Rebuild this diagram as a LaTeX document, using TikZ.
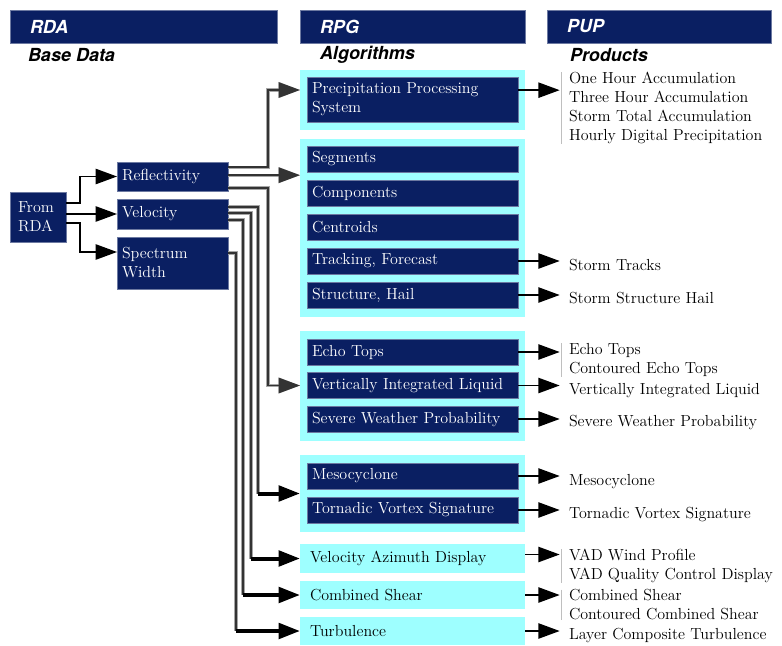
\documentclass[tikz,border=0pt]{standalone}
\usepackage{fontspec}
\setsansfont{TeX Gyre Heros}
\usepackage{tikz}
\usetikzlibrary{arrows.meta}
\definecolor{radarnavy}{HTML}{0A1F62}
\definecolor{radaraqua}{HTML}{9EFFFF}

\begin{document}
\begin{tikzpicture}[x=0.75pt, y=-0.75pt, every node/.style={inner sep=0pt, outer sep=0pt, font=\fontsize{12}{14.25}\selectfont}, head/.style={fill=radarnavy, draw=radarnavy!60!white, line width=0.4pt, text=white, anchor=north west, align=left, minimum height=24.75pt, inner xsep=15pt, font=\sffamily\bfseries\itshape\fontsize{13.5}{13.5}\selectfont}, subhead/.style={anchor=west, font=\sffamily\bfseries\itshape\fontsize{13.5}{13.5}\selectfont}, grp/.style={fill=radaraqua, anchor=north west, minimum width=168.75pt}, algo/.style={fill=radarnavy, draw=radarnavy!60!white, line width=0.4pt, text=white, anchor=north west, align=left, text width=150.75pt, inner xsep=3.75pt, minimum height=19.5pt}, lite/.style={fill=radaraqua, anchor=north west, align=left, text width=153.75pt, inner xsep=7.5pt, minimum height=21pt}, data/.style={fill=radarnavy, draw=radarnavy!60!white, line width=0.4pt, text=white, anchor=north west, align=left, text width=75.75pt, inner xsep=3.75pt}, prod/.style={anchor=west, align=left, font=\fontsize{12}{14.25}\selectfont}, tip/.style={-{Triangle[length=16pt, width=11.5pt]}}, feed/.style={draw=black, line width=1.1pt, tip}, wire/.style={draw=black!80, line width=1.1pt, preaction={draw=black!35, line width=2.3pt}}, heavy/.style={draw=black, line width=3pt, tip}, outarrow/.style={draw=black, line width=1.1pt, tip, shorten >=7pt}, bracket/.style={draw=black!25, line width=0.6pt}]
  \useasboundingbox (0,0) rectangle (782,646);

  % column heads
  \node[head, text width=170.25pt] (rdahead) at (10,10) {RDA};
  \node[head, text width=138.75pt] (rpghead) at (300,10) {RPG};
  \node[head, text width=138pt] (puphead) at (547,10) {PUP};
  \node[subhead] (basedata) at (28,55) {Base Data};
  \node[subhead] (algos) at (320,55) {Algorithms};
  \node[subhead] (prods) at (570,55) {Products};

  % algorithm groups
  \node[grp, minimum height=45pt] (precipgrp) at (300,70) {};
  \node[grp, minimum height=133.5pt] (stormgrp) at (300,139) {};
  \node[grp, minimum height=82.5pt] (liquidgrp) at (300,331) {};
  \node[grp, minimum height=57.75pt] (mesogrp) at (300,455) {};

  \node[algo, minimum height=33.75pt] (pps) at (307,77) {Precipitation Processing\\System};
  \node[algo] (seg) at (307,146) {Segments};
  \node[algo] (comp) at (307,180) {Components};
  \node[algo] (cent) at (307,214) {Centroids};
  \node[algo] (track) at (307,248) {Tracking, Forecast};
  \node[algo] (hail) at (307,282) {Structure, Hail};
  \node[algo] (echo) at (307,339) {Echo Tops};
  \node[algo] (vil) at (307,372.5) {Vertically Integrated Liquid};
  \node[algo] (swp) at (307,406) {Severe Weather Probability};
  \node[algo] (meso) at (307,463) {Mesocyclone};
  \node[algo] (tvs) at (307,497) {Tornadic Vortex Signature};
  \node[lite, minimum height=21.75pt] (vad) at (300,544) {Velocity Azimuth Display};
  \node[lite] (shear) at (300,581) {Combined Shear};
  \node[lite] (turb) at (300,617) {Turbulence};

  % base data
  \node[data, text width=30pt, inner xsep=6pt, minimum height=37.5pt] (rda) at (10,192) {From\\RDA};
  \node[data, minimum height=21.75pt] (refl) at (117,162) {Reflectivity};
  \node[data, minimum height=22.5pt] (vel) at (117,199) {Velocity};
  \node[data, minimum height=39pt] (spw) at (117,237) {Spectrum\\Width};

  % products
  \node[prod] (ppsout) at (569,108) {One Hour Accumulation\\Three Hour Accumulation\\Storm Total Accumulation\\Hourly Digital Precipitation};
  \node[prod] (trackout) at (569,265) {Storm Tracks};
  \node[prod] (hailout) at (569,298) {Storm Structure Hail};
  \node[prod] (echoout) at (569,360) {Echo Tops\\Contoured Echo Tops};
  \node[prod] (vilout) at (569,391) {Vertically Integrated Liquid};
  \node[prod] (swpout) at (569,422) {Severe Weather Probability};
  \node[prod] (mesoout) at (569,482) {Mesocyclone};
  \node[prod] (tvsout) at (569,515) {Tornadic Vortex Signature};
  \node[prod] (vadout) at (569,566) {VAD Wind Profile\\VAD Quality Control Display};
  \node[prod] (shearout) at (569,605) {Combined Shear\\Contoured Combined Shear};
  \node[prod] (turbout) at (569,635) {Layer Composite Turbulence};

  \draw[bracket] ([xshift=-6pt]ppsout.north west) -- ([xshift=-6pt]ppsout.south west);
  \draw[bracket] ([xshift=-6pt]echoout.north west) -- ([xshift=-6pt]echoout.south west);
  \draw[bracket] ([xshift=-6pt]vadout.north west) -- ([xshift=-6pt]vadout.south west);
  \draw[bracket] ([xshift=-6pt]shearout.north west) -- ([xshift=-6pt]shearout.south west);

  % from RDA
  \draw[feed] ([yshift=10.5pt]rda.east) -- ++(14,0) |- (refl.west);
  \draw[feed] ([yshift=2.25pt]rda.east) -- ([yshift=2.25pt]rda.east -| vel.west);
  \draw[feed] ([yshift=-4.5pt]rda.east) -- ++(14,0) |- ([yshift=8.25pt]spw.west);

  % reflectivity
  \draw[wire, tip] ([yshift=7pt]refl.east) -- ++(40,0) |- ([yshift=7.5pt]precipgrp.west);
  \draw[wire, tip] ([yshift=1pt]refl.east) -- ([yshift=1pt]refl.east -| stormgrp.west);
  \draw[wire, tip] ([yshift=-8.6pt]refl.east) -- ++(40,0) |- (vil.west -| liquidgrp.west);

  % velocity and spectrum width
  \draw[wire] ([yshift=5.25pt]vel.east) -- ++(30,0) coordinate (mesobend) -- (mesobend |- mesogrp.west);
  \draw[wire] ([yshift=0.75pt]vel.east) -- ++(23,0) coordinate (vadbend) -- (vadbend |- vad.west);
  \draw[wire] ([yshift=-4.5pt]vel.east) -- ++(15,0) coordinate (shearbend) -- (shearbend |- shear.west);
  \draw[wire] ([yshift=7.5pt]spw.east) -- ++(8,0) coordinate (turbbend) -- (turbbend |- turb.west);
  \draw[heavy] (mesobend |- mesogrp.west) -- (mesogrp.west);
  \draw[heavy] (vadbend |- vad.west) -- (vad.west);
  \draw[heavy] (shearbend |- shear.west) -- (shear.west);
  \draw[heavy] (turbbend |- turb.west) -- (turb.west);

  % products out
  \draw[outarrow] ([yshift=7pt]pps.east) -- ([yshift=7pt]pps.east -| ppsout.west);
  \draw[outarrow] (track.east) -- (track.east -| trackout.west);
  \draw[outarrow] (hail.east) -- (hail.east -| hailout.west);
  \draw[outarrow] (echo.east) -- (echo.east -| echoout.west);
  \draw[outarrow] (vil.east) -- (vil.east -| vilout.west);
  \draw[outarrow] (swp.east) -- (swp.east -| swpout.west);
  \draw[outarrow] (meso.east) -- (meso.east -| mesoout.west);
  \draw[outarrow] (tvs.east) -- (tvs.east -| tvsout.west);
  \draw[outarrow] ([yshift=3pt]vad.east) -- ([yshift=3pt]vad.east -| vadout.west);
  \draw[outarrow] (shear.east) -- (shear.east -| shearout.west);
  \draw[outarrow] (turb.east) -- (turb.east -| turbout.west);
\end{tikzpicture}
\end{document}
